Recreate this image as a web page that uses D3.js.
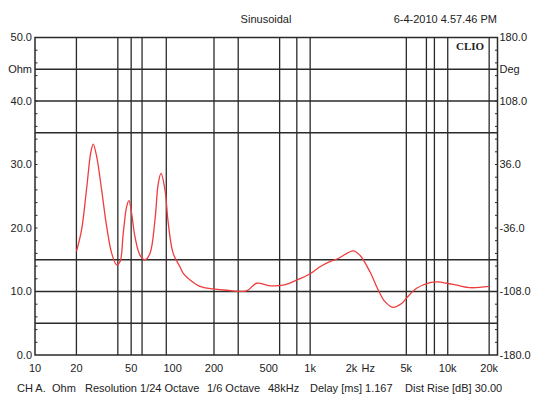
<!DOCTYPE html>
<html>
<head>
<meta charset="utf-8">
<script src="https://cdn.jsdelivr.net/npm/d3@7"></script>
<style>
  body { margin: 0; background: #fff; }
  text { font-family: "Liberation Sans", Arial, sans-serif; font-size: 11px; fill: #222; }
</style>
</head>
<body>
<svg width="539" height="400"></svg>
<script>
// impedance curve
var freqHz = [20, 21.8, 23.8, 25.4, 26.5, 28.1, 30.5, 33.2, 36.1, 39.2, 41.5, 43.8, 46.4, 48.2, 50.4,
  53.3, 58, 63, 68.5, 74.5, 78.7, 82.4, 88.1, 93.1, 101, 113, 120, 134, 158, 198, 247, 345, 408,
  510, 638, 798, 1000, 1180, 1390, 1600, 2060, 2300, 2720, 3130, 3500, 4000, 4620, 5030, 5940,
  7420, 8500, 9800, 11600, 14500, 20000];
var ohms = [16.3, 19.7, 26.5, 31.8, 33.2, 31.2, 26.0, 20.2, 16.0, 14.2, 14.7, 19.2, 23.4, 24.3, 22.3,
  18.6, 15.7, 15.0, 16.0, 21.3, 27.0, 28.6, 26.0, 20.7, 16.0, 13.9, 12.8, 11.8, 10.8, 10.4, 10.2, 10.1, 11.3,
  10.9, 11.0, 11.8, 12.8, 13.9, 14.7, 15.2, 16.4, 15.7, 13.1, 10.2, 8.4, 7.5, 8.1, 9.0, 10.5,
  11.4, 11.5, 11.3, 11.0, 10.6, 10.8];

// grid and tick labels
var gridFreqs = [20, 40, 50, 60, 90, 200, 300, 600, 800, 1000, 5000, 7000, 8000, 10000, 20000];
var gridOhms = [45, 40, 35, 15, 10, 5];
var xTicks = [10, 20, 50, 100, 200, 500, 1000, 2000, 5000, 10000, 20000];
var xTickLabels = ["10", "20", "50", "100", "200", "500", "1k", "2k", "5k", "10k", "20k"];
var ohmTicks = [50, 40, 30, 20, 10, 0];
var degTicks = [180, 108, 36, -36, -108, -180];
var minorOhms = d3.range(2, 50, 2);

// footer items and where they start
var footerTexts = ["CH A.", "Ohm", "Resolution 1/24 Octave", "1/6 Octave", "48kHz", "Delay [ms] 1.167", "Dist Rise [dB] 30.00"];
var footerX = [17, 52, 85, 207, 268, 310, 405];

var plotLeft = 35, plotRight = 497.5, plotTop = 37.5, plotBottom = 355;

var svg = d3.select("svg");

var x = d3.scaleLog().domain([10, 23000]).range([plotLeft, plotRight]);
var y = d3.scaleLinear().domain([0, 50]).range([plotBottom, plotTop]);
var yDeg = d3.scaleLinear().domain([-180, 180]).range([plotBottom, plotTop]);

var gridColor = "#2a2a2a";

// vertical grid
svg.selectAll(".vgrid")
    .data(gridFreqs)
    .enter().append("line")
    .attr("x1", function(d) { return x(d); })
    .attr("x2", function(d) { return x(d); })
    .attr("y1", plotTop)
    .attr("y2", plotBottom)
    .attr("stroke", gridColor)
    .attr("stroke-width", 1.3);

// horizontal grid
svg.selectAll(".hgrid")
    .data(gridOhms)
    .enter().append("line")
    .attr("x1", plotLeft)
    .attr("x2", plotRight)
    .attr("y1", function(d) { return y(d); })
    .attr("y2", function(d) { return y(d); })
    .attr("stroke", gridColor)
    .attr("stroke-width", 1.3);

// minor ticks inside both axes
svg.selectAll(".mtl")
    .data(minorOhms)
    .enter().append("line")
    .attr("x1", plotLeft)
    .attr("x2", plotLeft + 2.5)
    .attr("y1", function(d) { return y(d); })
    .attr("y2", function(d) { return y(d); })
    .attr("stroke", gridColor);
svg.selectAll(".mtr")
    .data(minorOhms)
    .enter().append("line")
    .attr("x1", plotRight - 2.5)
    .attr("x2", plotRight)
    .attr("y1", function(d) { return y(d); })
    .attr("y2", function(d) { return y(d); })
    .attr("stroke", gridColor);

// frame
svg.append("rect")
    .attr("x", plotLeft)
    .attr("y", plotTop)
    .attr("width", plotRight - plotLeft)
    .attr("height", plotBottom - plotTop)
    .attr("fill", "none")
    .attr("stroke", gridColor)
    .attr("stroke-width", 1.5);

// the curve
var line = d3.line()
    .x(function(d, i) { return x(freqHz[i]); })
    .y(function(d) { return y(d); })
    .curve(d3.curveCatmullRom.alpha(0.5));

svg.append("path")
    .datum(ohms)
    .attr("d", line)
    .attr("fill", "none")
    .attr("stroke", "#f03c3c")
    .attr("stroke-width", 1.3);

// left labels
svg.selectAll(".ly")
    .data(ohmTicks)
    .enter().append("text")
    .attr("x", plotLeft - 3)
    .attr("y", function(d) { return y(d); })
    .attr("dy", "0.35em")
    .attr("text-anchor", "end")
    .text(function(d) { return d.toFixed(1); });
svg.append("text")
    .attr("x", plotLeft - 3)
    .attr("y", y(45))
    .attr("dy", "0.35em")
    .attr("text-anchor", "end")
    .text("Ohm");

// right labels
svg.selectAll(".ry")
    .data(degTicks)
    .enter().append("text")
    .attr("x", plotRight + 2)
    .attr("y", function(d) { return yDeg(d); })
    .attr("dy", "0.35em")
    .text(function(d) { return d.toFixed(1); });
svg.append("text")
    .attr("x", plotRight + 2)
    .attr("y", yDeg(144))
    .attr("dy", "0.35em")
    .text("Deg");

// x labels
svg.selectAll(".xl")
    .data(xTicks)
    .enter().append("text")
    .attr("x", function(d) { return x(d); })
    .attr("y", 372)
    .attr("text-anchor", "middle")
    .text(function(d, i) { return xTickLabels[i]; });
svg.append("text")
    .attr("x", x(2000) + 10)
    .attr("y", 372)
    .text("Hz");

// header
svg.append("text")
    .attr("x", 266)
    .attr("y", 23)
    .attr("text-anchor", "middle")
    .text("Sinusoidal");
svg.append("text")
    .attr("x", 497)
    .attr("y", 23)
    .attr("text-anchor", "end")
    .text("6-4-2010 4.57.46 PM");
svg.append("text")
    .attr("x", 456)
    .attr("y", 50)
    .style("font-family", "'Liberation Serif', 'Times New Roman', serif")
    .style("font-weight", "bold")
    .style("font-size", "11px")
    .text("CLIO");

// footer
svg.selectAll(".foot")
    .data(footerTexts)
    .enter().append("text")
    .attr("x", function(d, i) { return footerX[i]; })
    .attr("y", 392)
    .text(function(d) { return d; });
</script>
</body>
</html>
